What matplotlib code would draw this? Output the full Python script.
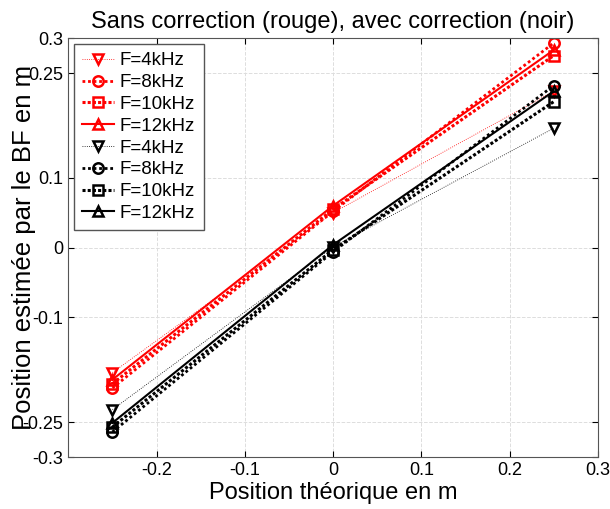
import matplotlib.pyplot as plt
import numpy as np

plt.rcParams["font.family"] = ["Liberation Sans", "DejaVu Sans"]

x_th = [-0.25, 0, 0.25]
labels = ['F=4kHz', 'F=8kHz', 'F=10kHz', 'F=12kHz']
markers = ['v', 'o', 's', '^']

# sans correction (rouge)
rouge = [
    [-0.179, 0.050, 0.224],
    [-0.201, 0.052, 0.293],
    [-0.195, 0.055, 0.275],
    [-0.189, 0.060, 0.283],
]
# avec correction (noir)
noir = [
    [-0.232, 0.001, 0.171],
    [-0.264, -0.006, 0.232],
    [-0.257, -0.003, 0.209],
    [-0.251, 0.004, 0.224],
]

styles = [(':', 0.6), ((0, (1, 1)), 2.0), ((0, (1, 0.7)), 2.2), ('-', 1.5)]

fig = plt.figure(figsize=(6.1, 5.09), dpi=100)
ax = fig.add_axes([0.112, 0.102, 0.868, 0.823])

for vals, col in [(rouge, 'red'), (noir, 'black')]:
    for i in range(4):
        ls, lw = styles[i]
        ax.plot(x_th, vals[i], color=col, linestyle=ls, linewidth=lw,
                marker=markers[i], markersize=7.5, markerfacecolor='none',
                markeredgewidth=1.8, label=labels[i])

ax.set_xlim(-0.3, 0.3)
ax.set_ylim(-0.3, 0.3)
ax.set_xticks([-0.2, -0.1, 0, 0.1, 0.2, 0.3])
ax.set_xticklabels(['-0.2', '-0.1', '0', '0.1', '0.2', '0.3'])
ax.set_yticks([-0.3, -0.25, -0.1, 0, 0.1, 0.25, 0.3])
ax.set_yticklabels(['-0.3', '-0.25', '-0.1', '0', '0.1', '0.25', '0.3'])
ax.tick_params(direction='in', labelsize=13, length=4, top=True, right=True)
ax.grid(True, linestyle='--', color='#dddddd', linewidth=0.7)
for s in ax.spines.values():
    s.set_color('#555555')

ax.set_xlabel('Position théorique en m', fontsize=17, labelpad=2)
ax.set_ylabel('Position estimée par le BF en m', fontsize=18.5, labelpad=-10)
ax.set_title('Sans correction (rouge), avec correction (noir)', fontsize=17, pad=7)

leg = ax.legend(loc='upper left', fontsize=13.5, fancybox=False, framealpha=1,
                edgecolor='#555555', handlelength=1.7, borderaxespad=0.3,
                labelspacing=0.25, handletextpad=0.3, borderpad=0.45)

fig.savefig('out.png')
